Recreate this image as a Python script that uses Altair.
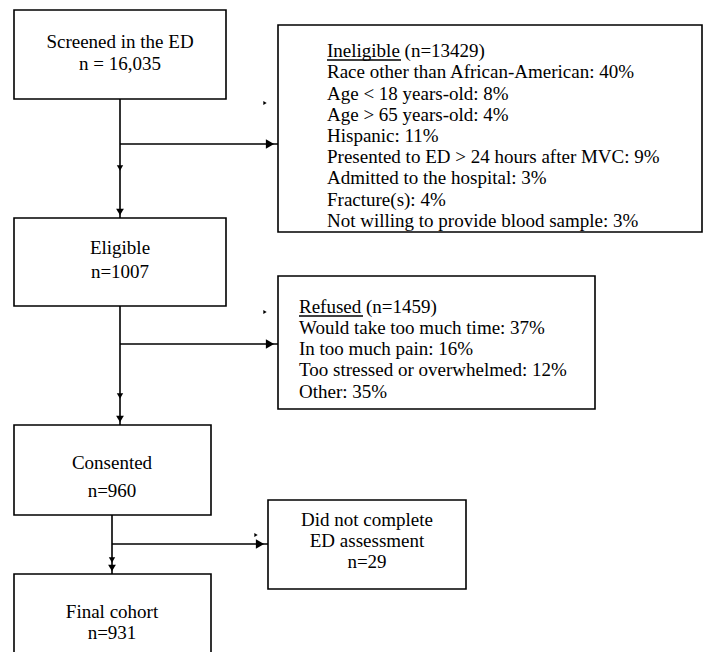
import pandas as pd
import altair as alt

FONT = "Times New Roman, Liberation Serif, DejaVu Serif, serif"

# boxes: left, right, top, bottom (page pixels)
box_names = ["screened", "ineligible", "eligible", "refused", "consented", "dropped", "final"]
box_x = [14, 278, 14, 278, 14, 268, 14]
box_x2 = [226, 702, 226, 595, 211, 466, 211]
box_y = [10, 25, 218, 276, 425, 500, 574]
box_y2 = [99, 232, 306, 409, 515, 589, 700]

# centred texts
c_text = ["Screened in the ED", "n = 16,035", "Eligible", "n=1007", "Consented", "n=960",
          "Final cohort", "n=931", "Did not complete", "ED assessment", "n=29"]
c_x = [120, 120, 120, 120, 112, 112, 112, 112, 367, 367, 367]
c_y = [42, 64, 248, 272, 463, 491, 612, 633, 520, 541, 562]

# left-aligned texts
l_text = ["Ineligible (n=13429)", "Race other than African-American: 40%",
          "Age < 18 years-old: 8%", "Age > 65 years-old: 4%", "Hispanic: 11%",
          "Presented to ED > 24 hours after MVC: 9%", "Admitted to the hospital: 3%",
          "Fracture(s): 4%", "Not willing to provide blood sample: 3%",
          "Refused (n=1459)", "Would take too much time: 37%", "In too much pain: 16%",
          "Too stressed or overwhelmed: 12%", "Other: 35%"]
l_x = [327] * 9 + [299] * 5
l_y = [51, 72, 94, 115, 136, 157, 178, 200, 221, 307, 328, 349, 370, 392]

# connector lines and underlines
ln_x = [120, 120, 120, 120, 112, 112, 327, 299]
ln_x2 = [120, 278, 120, 278, 112, 268, 401, 363]
ln_y = [99, 144, 306, 344, 515, 544, 60, 316]
ln_y2 = [218, 144, 425, 344, 574, 544, 60, 316]

# arrow heads (big) and the small decorative marks along the lines
ah_x = [120, 270, 120, 270, 112, 260, 120, 120, 112, 265, 265, 256]
ah_y = [212, 144, 419, 344, 568, 544, 168, 396, 560, 103, 312, 535]
ah_shape = ["triangle-down", "triangle-right", "triangle-down", "triangle-right",
            "triangle-down", "triangle-right", "triangle-down", "triangle-down",
            "triangle-down", "triangle-right", "triangle-right", "triangle-right"]
ah_size = [60, 90, 60, 90, 60, 90, 40, 40, 40, 15, 15, 15]

boxes = pd.DataFrame({"name": box_names, "x": box_x, "x2": box_x2, "y": box_y, "y2": box_y2})
ctext = pd.DataFrame({"t": c_text, "x": c_x, "y": c_y})
ltext = pd.DataFrame({"t": l_text, "x": l_x, "y": l_y})
lines = pd.DataFrame({"x": ln_x, "x2": ln_x2, "y": ln_y, "y2": ln_y2})
heads = pd.DataFrame({"x": ah_x, "y": ah_y, "s": ah_shape, "sz": ah_size})

X = alt.Scale(domain=[8, 712])
Y = alt.Scale(domain=[652, 8])

rects = alt.Chart(boxes).mark_rect(fill="white", stroke="black", strokeWidth=1.6).encode(
    x=alt.X("x:Q", scale=X, axis=None), x2="x2:Q",
    y=alt.Y("y:Q", scale=Y, axis=None), y2="y2:Q")

rules = alt.Chart(lines).mark_rule(color="black", strokeWidth=1.6).encode(
    x=alt.X("x:Q", scale=X, axis=None), x2="x2:Q",
    y=alt.Y("y:Q", scale=Y, axis=None), y2="y2:Q")

arrows = alt.Chart(heads).mark_point(filled=True, color="black", opacity=1).encode(
    x=alt.X("x:Q", scale=X, axis=None), y=alt.Y("y:Q", scale=Y, axis=None),
    shape=alt.Shape("s:N", scale=None),
    size=alt.Size("sz:Q", scale=None))

centre = alt.Chart(ctext).mark_text(font=FONT, fontSize=19, color="black").encode(
    x=alt.X("x:Q", scale=X, axis=None), y=alt.Y("y:Q", scale=Y, axis=None), text="t:N")

left = alt.Chart(ltext).mark_text(font=FONT, fontSize=19, color="black", align="left").encode(
    x=alt.X("x:Q", scale=X, axis=None), y=alt.Y("y:Q", scale=Y, axis=None), text="t:N")

chart = (rects + rules + arrows + centre + left).properties(
    width=704, height=644, padding=0,
    autosize=alt.AutoSizeParams(type="none")
).configure_view(stroke=None)

chart.save("out.html", embed_options={"renderer": "svg", "actions": False})
